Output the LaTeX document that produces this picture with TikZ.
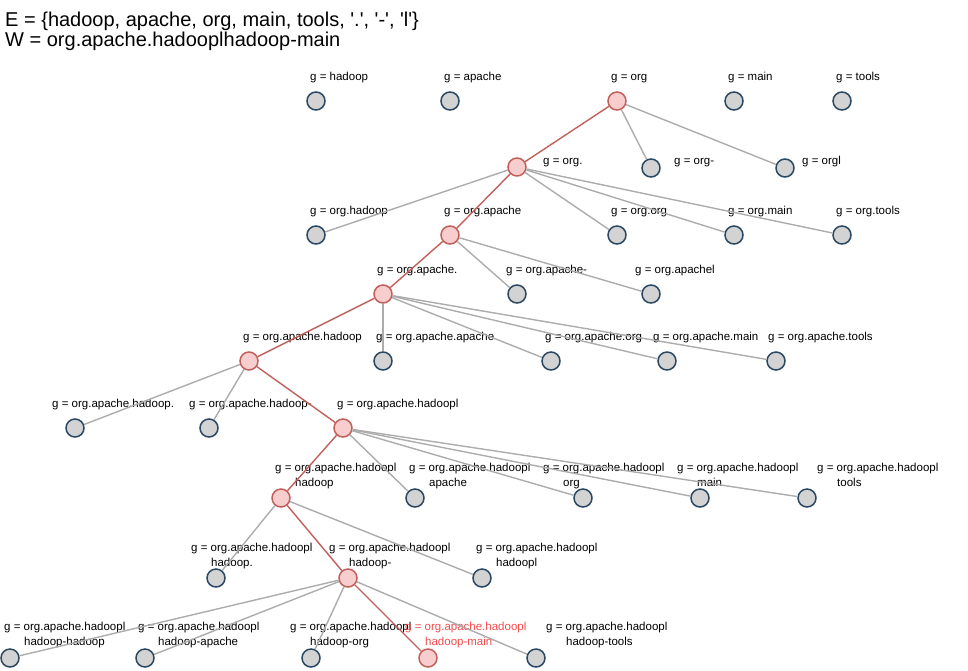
\documentclass[tikz,border=0pt]{standalone}
\usepackage{fontspec}
\setmainfont{Liberation Sans}[Ligatures=TeXOff]
\usetikzlibrary{positioning}

\definecolor{vgray}{HTML}{D3D3D3}
\definecolor{vblue}{HTML}{2A4862}
\definecolor{vpink}{HTML}{F7CDCD}
\definecolor{vred}{HTML}{C1605B}
\definecolor{egray}{HTML}{ACACAC}
\definecolor{tred}{HTML}{F24B4B}

\tikzset{
  vert/.style={circle, draw=vblue, fill=vgray, line width=1.5pt,
    minimum size=18pt, inner sep=0pt},
  hit/.style={vert, draw=vred, fill=vpink},
  lbl/.style={anchor=base west, inner sep=0pt, align=left,
    font=\fontsize{11.5}{14.5}\selectfont},
  link/.style={draw=egray, line width=1.4pt},
  hotlink/.style={draw=vred, line width=1.4pt}
}

\newcommand{\gpre}{g = org.apache.hadoopl\\\hspace*{20pt}}

\begin{document}
\begin{tikzpicture}[x=1pt, y=-1pt]

    \useasboundingbox (0,0) rectangle (968,670);

    % words and input
    \node[anchor=base west, inner sep=0pt, font=\fontsize{20}{24}\selectfont]
      (E) at (5,26) {E = \{hadoop, apache, org, main, tools, '.', '-', 'l'\}};
    \node[anchor=base west, inner sep=0pt, font=\fontsize{20}{24}\selectfont]
      (W) at (5,46) {W = org.apache.hadooplhadoop-main};

    % vertices

    \node[vert] (00) at (316,101) {};
    \node[vert] (01) at (450,101) {};
    \node[hit]  (02) at (617,101) {};
    \node[vert] (03) at (734,101) {};
    \node[vert] (04) at (842,101) {};

    \node[hit]  (10) at (517,167) {};
    \node[vert] (11) at (651,168) {};
    \node[vert] (12) at (785,168) {};

    \node[vert] (20) at (316,235) {};
    \node[hit]  (21) at (450,235) {};
    \node[vert] (22) at (617,235) {};
    \node[vert] (23) at (734,235) {};
    \node[vert] (24) at (842,235) {};

    \node[hit]  (30) at (383,294) {};
    \node[vert] (31) at (517,294) {};
    \node[vert] (32) at (651,294) {};

    \node[hit]  (40) at (249,361) {};
    \node[vert] (41) at (383,361) {};
    \node[vert] (42) at (551,361) {};
    \node[vert] (43) at (667,361) {};
    \node[vert] (44) at (776,361) {};

    \node[vert] (50) at (75,428) {};
    \node[vert] (51) at (209,428) {};
    \node[hit]  (52) at (343,428) {};

    \node[hit]  (60) at (281,498) {};
    \node[vert] (61) at (415,498) {};
    \node[vert] (62) at (583,498) {};
    \node[vert] (63) at (700,498) {};
    \node[vert] (64) at (807,498) {};

    \node[vert] (70) at (216,578) {};
    \node[hit]  (71) at (348,578) {};
    \node[vert] (72) at (482,578) {};

    \node[vert] (80) at (10,658) {};
    \node[vert] (81) at (145,658) {};
    \node[vert] (82) at (311,658) {};
    \node[hit]  (83) at (428,658) {};
    \node[vert] (84) at (536,658) {};

    % labels

    \node[lbl] (t00) at (310,80) {g = hadoop};
    \node[lbl] (t01) at (444,80) {g = apache};
    \node[lbl] (t02) at (611,80) {g = org};
    \node[lbl] (t03) at (728,80) {g = main};
    \node[lbl] (t04) at (836,80) {g = tools};

    \node[lbl] (t10) at (543,164) {g = org.};
    \node[lbl] (t11) at (674,164) {g = org-};
    \node[lbl] (t12) at (802,164) {g = orgl};

    \node[lbl] (t20) at (310,214) {g = org.hadoop};
    \node[lbl] (t21) at (444,214) {g = org.apache};
    \node[lbl] (t22) at (611,214) {g = org.org};
    \node[lbl] (t23) at (728,214) {g = org.main};
    \node[lbl] (t24) at (836,214) {g = org.tools};

    \node[lbl] (t30) at (377,273) {g = org.apache.};
    \node[lbl] (t31) at (506,273) {g = org.apache-};
    \node[lbl] (t32) at (635,273) {g = org.apachel};

    \node[lbl] (t40) at (243,340) {g = org.apache.hadoop};
    \node[lbl] (t41) at (376,340) {g = org.apache.apache};
    \node[lbl] (t42) at (545,340) {g = org.apache.org};
    \node[lbl] (t43) at (653,340) {g = org.apache.main};
    \node[lbl] (t44) at (768,340) {g = org.apache.tools};

    \node[lbl] (t50) at (52,407) {g = org.apache.hadoop.};
    \node[lbl] (t51) at (189,407) {g = org.apache.hadoop-};
    \node[lbl] (t52) at (337,407) {g = org.apache.hadoopl};

    % two-line labels sit on their last line
    \node[lbl] (t60) at (275,486) {\gpre hadoop};
    \node[lbl] (t61) at (409,486) {\gpre apache};
    \node[lbl] (t62) at (543,486) {\gpre org};
    \node[lbl] (t63) at (677,486) {\gpre main};
    \node[lbl] (t64) at (817,486) {\gpre tools};

    \node[lbl] (t70) at (191,566) {\gpre hadoop.};
    \node[lbl] (t71) at (329,566) {\gpre hadoop-};
    \node[lbl] (t72) at (476,566) {\gpre hadoopl};

    \node[lbl] (t80) at (4,645) {\gpre hadoop-hadoop};
    \node[lbl] (t81) at (138,645) {\gpre hadoop-apache};
    \node[lbl] (t82) at (290,645) {\gpre hadoop-org};
    \node[lbl, text=tred] (t83) at (405,645) {\gpre hadoop-main};
    \node[lbl] (t84) at (546,645) {\gpre hadoop-tools};

    % edges

    \draw[hotlink] (02) to (10);
    \draw[link] (02) to (11);
    \draw[link] (02) to (12);

    \draw[link] (10) to (20);
    \draw[hotlink] (10) to (21);
    \draw[link] (10) to (22);
    \draw[link] (10) to (23);
    \draw[link] (10) to (24);

    \draw[hotlink] (21) to (30);
    \draw[link] (21) to (31);
    \draw[link] (21) to (32);

    \draw[hotlink] (30) to (40);
    \draw[link] (30) to (41);
    \draw[link] (30) to (42);
    \draw[link] (30) to (43);
    \draw[link] (30) to (44);

    \draw[link] (40) to (50);
    \draw[link] (40) to (51);
    \draw[hotlink] (40) to (52);

    \draw[hotlink] (52) to (60);
    \draw[link] (52) to (61);
    \draw[link] (52) to (62);
    \draw[link] (52) to (63);
    \draw[link] (52) to (64);

    \draw[link] (60) to (70);
    \draw[hotlink] (60) to (71);
    \draw[link] (60) to (72);

    \draw[link] (71) to (80);
    \draw[link] (71) to (81);
    \draw[link] (71) to (82);
    \draw[hotlink] (71) to (83);
    \draw[link] (71) to (84);
  \end{tikzpicture}
\end{document}
